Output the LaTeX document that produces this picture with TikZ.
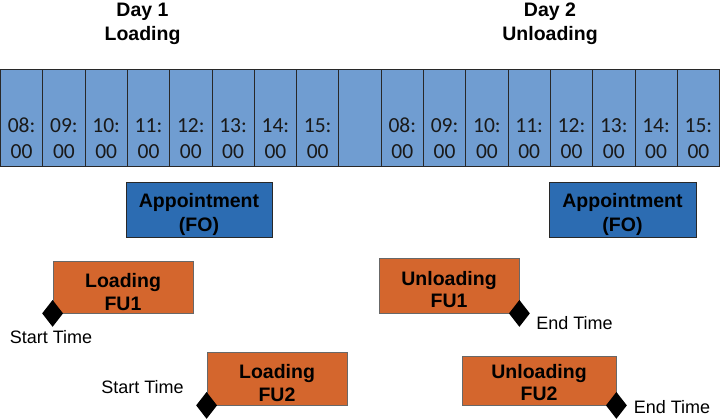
\documentclass[tikz,border=0pt]{standalone}
\usepackage{fontspec}
\setmainfont{Liberation Sans}
\newfontfamily\cellfont{Carlito}
\usetikzlibrary{shapes.geometric,calc}
\definecolor{cellblue}{RGB}{112,157,209}
\definecolor{apptblue}{RGB}{44,108,178}
\definecolor{fuorange}{RGB}{212,102,45}
\definecolor{edgegray}{RGB}{40,40,40}
\tikzset{
  cellbox/.style={draw=edgegray, line width=0.9pt, fill=cellblue, minimum width=42.3pt, minimum height=96.4pt, inner sep=0pt, anchor=north west},
  celltext/.style={font=\cellfont\fontsize{21.5}{25.8}\selectfont, align=center, inner sep=0pt, text=black!90},
  title/.style={font=\bfseries\fontsize{19.5}{24}\selectfont, align=center, inner sep=0pt},
  appt/.style={draw=edgegray, line width=0.8pt, fill=apptblue, inner sep=0pt, minimum height=55pt},
  fubox/.style={draw=edgegray!70, line width=0.8pt, fill=fuorange, inner sep=0pt},
  apptext/.style={align=center, inner sep=0pt, font=\bfseries\fontsize{19.5}{24}\selectfont},
  futext/.style={align=center, inner sep=0pt, font=\bfseries\fontsize{19.5}{22.5}\selectfont},
  marker/.style={diamond, fill=black, draw=none, inner sep=0pt, minimum width=21pt, minimum height=27pt},
  lbl/.style={font=\fontsize{18}{20}\selectfont, inner sep=0pt}
}
\begin{document}
\begin{tikzpicture}[x=1pt,y=-1pt]
\useasboundingbox (0,0) rectangle (720,420);
% titles
\node[title] (t1) at (142.5,23.5) {Day 1\\Loading};
\node[title] (t2) at (550,23.5) {Day 2\\Unloading};
% timeline cells
\foreach \i/\h in {1/08,2/09,3/10,4/11,5/12,6/13,7/14,8/15,10/08,11/09,12/10,13/11,14/12,15/13,16/14,17/15}{
  \node[cellbox] (c\i) at ({(\i-1)*42.3},69.3) {};
  \node[celltext] (h\i) at ($(c\i.center)+(0,20.6)$) {\h:\\00};
}
\node[cellbox] (c9) at ({8*42.3},69.3) {};
% appointments
\node[appt, minimum width=146pt] (a1) at (199,209.5) {};
\node[appt, minimum width=147pt] (a2) at (622.5,209.5) {};
\node[apptext] (a1t) at ($(a1.center)+(0,5)$) {Appointment\\(FO)};
\node[apptext] (a2t) at ($(a2.center)+(0,5)$) {Appointment\\(FO)};
% FU boxes
\node[fubox, minimum width=140pt, minimum height=52pt] (l1) at (123,287) {};
\node[fubox, minimum width=140pt, minimum height=53pt] (l2) at (277,378.5) {};
\node[fubox, minimum width=140pt, minimum height=55pt] (u1) at (449,285.5) {};
\node[fubox, minimum width=154pt, minimum height=49pt] (u2) at (539,380.5) {};
\node[futext] (l1t) at ($(l1.center)+(0,4.8)$) {Loading\\FU1};
\node[futext] (l2t) at ($(l2.center)+(0,4.5)$) {Loading\\FU2};
\node[futext] (u1t) at ($(u1.center)+(0,4)$) {Unloading\\FU1};
\node[futext] (u2t) at ($(u2.center)+(0,2)$) {Unloading\\FU2};
% markers
\node[marker] (m1) at (l1.south west) {};
\node[marker] (m2) at (l2.south west) {};
\node[marker] (m3) at (u1.south east) {};
\node[marker] (m4) at (u2.south east) {};
% labels
\node[lbl] (s1) at (51,337) {Start Time};
\node[lbl] (s2) at (142.5,386.7) {Start Time};
\node[lbl] (e1) at (574.5,323.3) {End Time};
\node[lbl] (e2) at (672,406.7) {End Time};
\end{tikzpicture}
\end{document}
